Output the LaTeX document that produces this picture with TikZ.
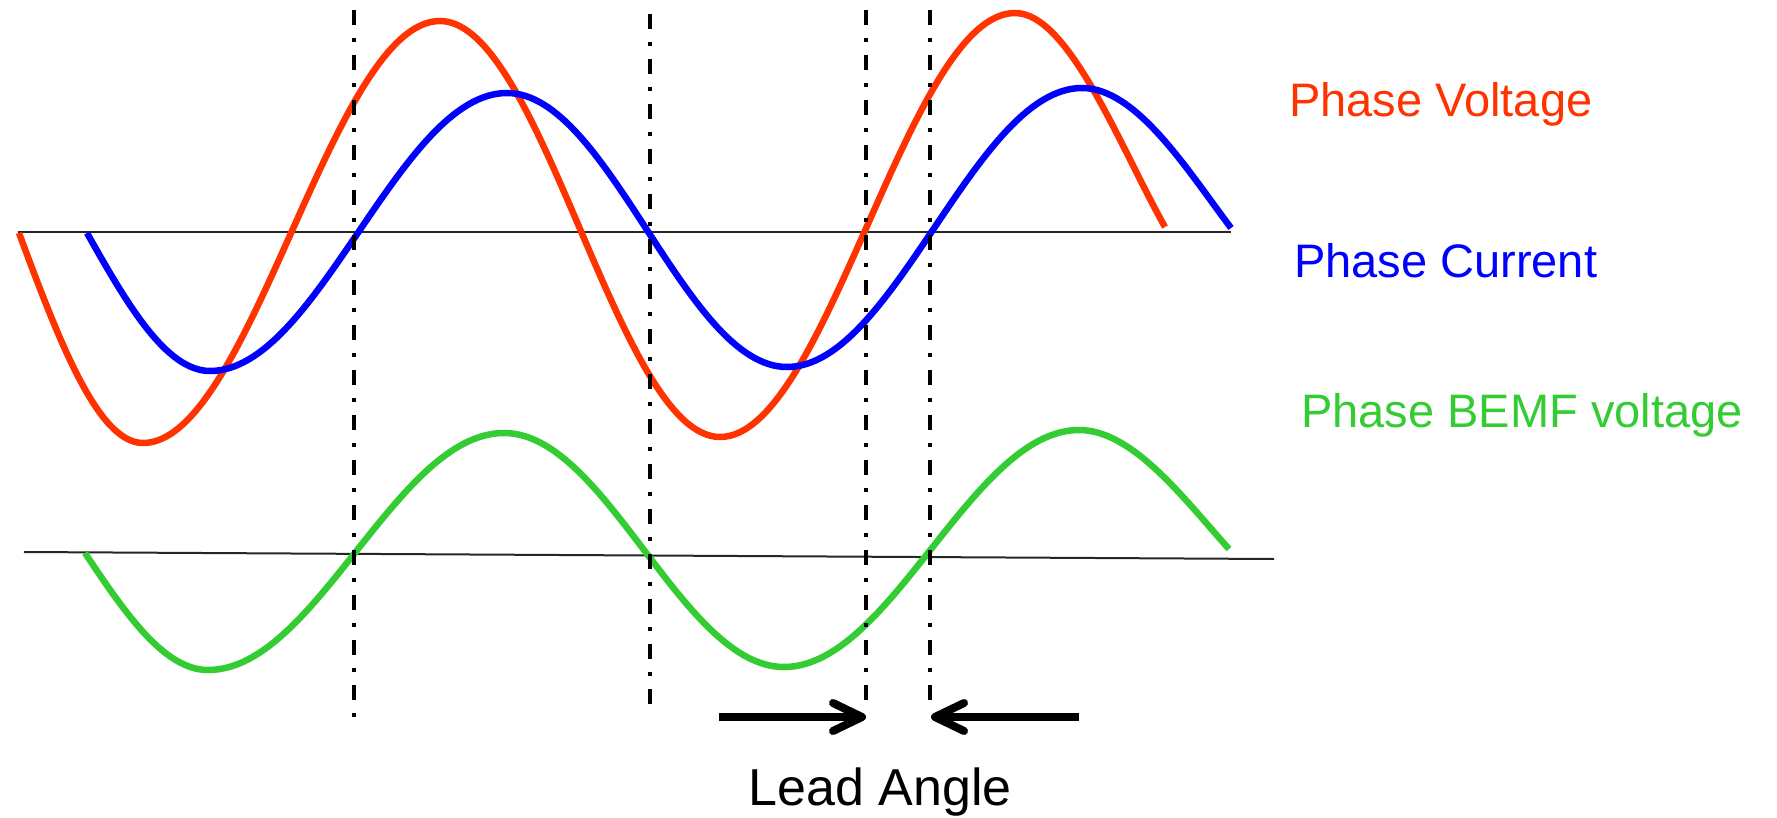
\documentclass[tikz,border=0pt]{standalone}
\usepackage{fontspec}
\setmainfont{Liberation Sans}
\definecolor{pvred}{HTML}{FF3300}
\definecolor{pcblue}{HTML}{0000FF}
\definecolor{bemfgreen}{HTML}{33CC33}
\tikzset{
  wave/.style={line width=6.5pt},
  axisline/.style={line width=2pt, black!85},
  dashdot/.style={line width=4.5pt, dash pattern=on 15pt off 13pt on 4pt off 13pt},
  leadshaft/.style={line width=7.5pt},
  chevron/.style={line width=8pt, line cap=round, line join=round},
  lbl/.style={inner sep=0pt, anchor=base west, font=\fontsize{47}{56}\selectfont}
}
\begin{document}
\begin{tikzpicture}[x=1pt,y=-1pt]
\useasboundingbox (0,0) rectangle (1777,818);
% axes
\coordinate (ta1) at (18,232); \coordinate (ta2) at (1231,232);
\coordinate (ba1) at (24,552); \coordinate (ba2) at (1274,559);
\draw[axisline] (ta1) -- (ta2);
\draw[axisline] (ba1) -- (ba2);
% phase voltage
\draw[wave, pvred] (19,233) .. controls +(40,108) and +(-45,0) .. (143,443)
  .. controls +(108,0) and +(-108,0) .. (440,21)
  .. controls +(102,0) and +(-102,0) .. (720,437)
  .. controls +(107,0) and +(-107,0) .. (1015,13)
  .. controls +(54,0) and +(-45,-80) .. (1165,227);
% phase current
\draw[wave, pcblue] (87,233) .. controls +(40,71) and +(-44,0) .. (210,371)
  .. controls +(108,0) and +(-108,0) .. (507,93)
  .. controls +(102,0) and +(-102,0) .. (787,367)
  .. controls +(107,0) and +(-107,0) .. (1082,88)
  .. controls +(54,0) and +(-45,-60) .. (1231,228);
% BEMF
\draw[wave, bemfgreen] (85,553) .. controls +(40,60) and +(-44,0) .. (208,670)
  .. controls +(108,0) and +(-108,0) .. (504,433)
  .. controls +(102,0) and +(-102,0) .. (784,667)
  .. controls +(107,0) and +(-107,0) .. (1079,430)
  .. controls +(54,0) and +(-45,-50) .. (1229,549);
% dash-dot lines
\coordinate (d1t) at (354,10);  \coordinate (d1b) at (354,725);
\coordinate (d2t) at (650,14);  \coordinate (d2b) at (650,716);
\coordinate (d3t) at (866,10);  \coordinate (d3b) at (866,712);
\coordinate (d4t) at (930,10);  \coordinate (d4b) at (930,712);
\draw[dashdot] (d1t) -- (d1b);
\draw[dashdot] (d2t) -- (d2b);
\draw[dashdot] (d3t) -- (d3b);
\draw[dashdot] (d4t) -- (d4b);
% arrows
\coordinate (ra1) at (719,717); \coordinate (ra2) at (862,717);
\coordinate (la1) at (1079,717); \coordinate (la2) at (935,717);
\draw[leadshaft] (ra1) -- (ra2);
\draw[chevron] (ra2) ++(-29,-14) -- (ra2) -- +(-29,14);
\draw[leadshaft] (la1) -- (la2);
\draw[chevron] (la2) ++(29,-14) -- (la2) -- +(29,14);
% labels
\node[lbl, text=pvred] (pv) at (1289,117) {Phase Voltage};
\node[lbl, text=pcblue] (pc) at (1294,277) {Phase Current};
\node[lbl, text=bemfgreen] (pb) at (1301,427) {Phase BEMF voltage};
\node[inner sep=0pt, anchor=base, font=\fontsize{52}{62}\selectfont] (lead) at (880,805) {Lead Angle};
\end{tikzpicture}
\end{document}
